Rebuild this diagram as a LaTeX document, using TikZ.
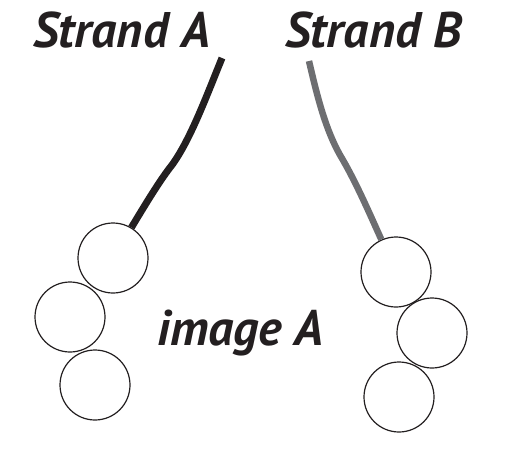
\documentclass[tikz,border=0pt]{standalone}
\usepackage{fontspec}
\setmainfont{PT Sans}
\definecolor{ink}{HTML}{231F20}
\definecolor{strandgray}{HTML}{6D6E71}
\tikzset{
  bead/.style={circle, draw=ink, line width=1.2pt, fill=white, minimum size=70pt, inner sep=0pt},
  label/.style={font=\fontsize{50}{54}\selectfont\bfseries\itshape, text=ink, anchor=base west, inner sep=0pt},
  strandA/.style={draw=ink, line width=7pt},
  strandB/.style={draw=strandgray, line width=6.5pt}
}
\begin{document}
\begin{tikzpicture}[x=1pt,y=-1pt]
\useasboundingbox (0,0) rectangle (528,450);
% labels
\node[label] (la) at (33,47) {Strand A};
\node[label] (lb) at (285,47) {Strand B};
\node[label] (li) at (157,345) {image A};
% strand A beads
\node[bead] (a2) at (70,317) {};
\node[bead] (a1) at (113,258) {};
\node[bead] (a3) at (95,385) {};
% strand B beads
\node[bead] (b1) at (396,272) {};
\node[bead] (b2) at (432,333) {};
\node[bead] (b3) at (399,397) {};
% strand ends
\coordinate (atop) at (222,58);
\coordinate (amid) at (172,165);
\coordinate (btop) at (309,61);
\coordinate (bmid) at (340,155);
\draw[strandA] (atop) .. controls (205,100) and (190,140) .. (amid) .. controls (160,180) and (145,205) .. (a1);
\draw[strandB] (btop) .. controls (318,100) and (326,130) .. (bmid) .. controls (355,180) and (368,210) .. (b1);
\end{tikzpicture}
\end{document}
